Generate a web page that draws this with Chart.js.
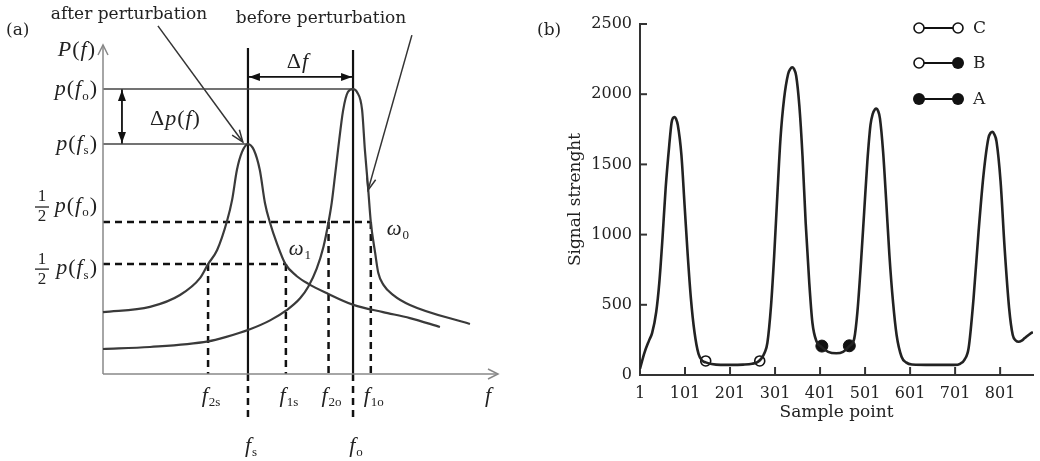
<!DOCTYPE html>
<html>
<head>
<meta charset="utf-8">
<script src="https://cdn.jsdelivr.net/npm/chart.js@4.4.1/dist/chart.umd.min.js"></script>
<style>
html, body { margin: 0; padding: 0; background: #fff; }
#wrap { position: relative; width: 1040px; height: 461px; }
canvas { position: absolute; top: 0; }
#chartA { left: 0; }
#chartB { left: 520px; }
</style>
</head>
<body>
<div id="wrap">
  <canvas id="chartA" width="520" height="461"></canvas>
  <canvas id="chartB" width="520" height="461"></canvas>
</div>
<script>
// ---------- panel (a): schematic, axes run 0..100 in both directions ----------
const afterX = [0, 11.9, 19.5, 24.6, 26.6, 28.9, 31.4, 32.7, 33.9, 35.2, 36.7, 38.2, 39.7, 41.0, 42.3, 44.0, 46.2, 49.0, 52.0, 56.6, 63.4, 70.9, 77.7, 85.3];
const afterY = [18.8, 20.4, 24.0, 29.2, 33.4, 37.7, 46.5, 53.0, 62.0, 67.5, 69.9, 68.1, 62.0, 52.0, 45.9, 39.8, 33.4, 29.8, 27.4, 24.6, 21.0, 18.8, 17.0, 14.3];
const beforeX = [0, 11.9, 26.6, 31.0, 37.2, 42.3, 46.5, 49.9, 52.0, 54.1, 55.8, 57.1, 57.9, 58.7, 59.5, 60.8, 62.0, 63.3, 64.3, 65.6, 66.3, 67.1, 67.8, 68.9, 69.7, 71.0, 73.5, 77.7, 92.9];
const beforeY = [7.6, 8.2, 9.9, 11.2, 13.6, 16.3, 19.4, 23.0, 26.6, 32.0, 38.6, 46.2, 52.0, 59.9, 68.1, 80.2, 85.7, 86.6, 85.7, 80.2, 68.1, 56.8, 46.2, 36.8, 30.7, 27.1, 24.0, 21.0, 15.2];

const peakFreqs = [36.7, 63.3];          // f_s, f_o
const peakLevels = [69.9, 86.6];         // p(f_s), p(f_o)
const halfLevels = [33.4, 46.2];         // 1/2 p(f_s), 1/2 p(f_o)
const edgeFreqs = [26.6, 46.3, 57.1, 67.8];
const edgeLabels = ['2s', '1s', '2o', '1o'];
const pointerArrows = [[13.9, 105.8, 35.4, 70.5], [78.2, 103, 67.1, 55.9]];

// ---------- panel (b): signal ----------
const sampleX = [1, 11, 21, 28, 37, 44, 51, 58, 66, 71, 74, 78, 81, 85, 93, 100, 107, 114, 122, 131, 140, 147, 160, 180, 203, 230, 250, 262, 270, 278, 284, 292, 299, 306, 313, 321, 330, 335, 339, 343, 348, 355, 362, 369, 377, 384, 393, 404, 419, 437, 452, 466, 477, 484, 492, 499, 506, 513, 518, 523, 526, 530, 534, 541, 548, 555, 563, 571, 582, 592, 605, 650, 700, 712, 722, 731, 742, 753, 764, 775, 780, 784, 788, 793, 802, 811, 821, 829, 836, 842, 849, 855, 869, 874];
const signal = [45, 160, 245, 300, 449, 662, 976, 1332, 1638, 1795, 1830, 1838, 1825, 1781, 1567, 1211, 855, 548, 306, 150, 100, 90, 78, 72, 72, 74, 80, 92, 115, 160, 230, 491, 847, 1275, 1681, 1966, 2144, 2180, 2192, 2180, 2130, 1916, 1560, 1085, 657, 372, 240, 200, 165, 155, 165, 205, 261, 451, 807, 1163, 1519, 1781, 1860, 1893, 1898, 1880, 1828, 1591, 1234, 855, 522, 285, 130, 90, 75, 72, 72, 80, 110, 192, 548, 1018, 1424, 1688, 1725, 1733, 1715, 1662, 1377, 902, 475, 285, 245, 237, 245, 261, 297, 305];
const xTickValues = [1, 101, 201, 301, 401, 501, 601, 701, 801];
const yTickValues = [0, 500, 1000, 1500, 2000, 2500];
const markerCX = [147, 267];
const markerCY = [100, 100];
const markerAX = [405, 466];
const markerAY = [206, 208];
const legendLabels = ['C', 'B', 'A'];
const legendLeftOpen = [true, true, false];
const legendRightOpen = [true, false, false];

const SERIF = '"DejaVu Serif", serif';
const MATH = '"Liberation Serif", serif';

function seg(x1, y1, x2, y2, color, width, dash) {
  return {
    data: [{ x: x1, y: y1 }, { x: x2, y: y2 }],
    showLine: true, pointRadius: 0, borderColor: color, borderWidth: width,
    borderDash: dash || [], clip: false
  };
}

function mathText(ctx, parts, x, y, align, size) {
  const fonts = {
    i: 'italic ' + size + 'px ' + MATH,
    r: size + 'px ' + MATH,
    s: Math.round(size * 0.6) + 'px ' + MATH
  };
  const gap = 1;
  let w = 0;
  parts.forEach(p => { ctx.font = fonts[p[1]]; w += ctx.measureText(p[0]).width + gap; });
  w -= gap;
  let cx = align === 'right' ? x - w : align === 'center' ? x - w / 2 : x;
  ctx.textAlign = 'left';
  ctx.textBaseline = 'middle';
  parts.forEach(p => {
    ctx.font = fonts[p[1]];
    ctx.fillText(p[0], cx, p[1] === 's' ? y + size * 0.32 : y);
    cx += ctx.measureText(p[0]).width + gap;
  });
}

function head(ctx, x1, y1, x2, y2, len, half, filled) {
  const a = Math.atan2(y2 - y1, x2 - x1);
  const bx = x2 - len * Math.cos(a), by = y2 - len * Math.sin(a);
  const px = half * Math.sin(a), py = -half * Math.cos(a);
  ctx.beginPath();
  ctx.moveTo(bx + px, by + py);
  ctx.lineTo(x2, y2);
  ctx.lineTo(bx - px, by - py);
  if (filled) { ctx.closePath(); ctx.fill(); } else { ctx.stroke(); }
}

const drawA = {
  id: 'drawA',
  afterDraw(chart) {
    const { ctx, scales: { x, y } } = chart;
    const X = v => x.getPixelForValue(v), Y = v => y.getPixelForValue(v);
    ctx.save();
    // arrowheads
    ctx.strokeStyle = '#888'; ctx.lineWidth = 1.5;
    head(ctx, X(0), Y(0), X(100), Y(0), 10, 5, false);
    head(ctx, X(0), Y(0), X(0), Y(100), 10, 5, false);
    ctx.fillStyle = '#111';
    head(ctx, X(peakFreqs[1]), Y(90.3), X(peakFreqs[0]) + 1, Y(90.3), 11, 4, true);
    head(ctx, X(peakFreqs[0]), Y(90.3), X(peakFreqs[1]) - 1, Y(90.3), 11, 4, true);
    head(ctx, X(4.8), Y(peakLevels[0]), X(4.8), Y(peakLevels[1]) + 1, 11, 4, true);
    head(ctx, X(4.8), Y(peakLevels[1]), X(4.8), Y(peakLevels[0]) - 1, 11, 4, true);
    ctx.strokeStyle = '#333'; ctx.lineWidth = 1.5;
    pointerArrows.forEach(a => head(ctx, X(a[0]), Y(a[1]), X(a[2]), Y(a[3]), 12, 4.5, false));

    // text
    ctx.fillStyle = '#222';
    ctx.font = '17px ' + SERIF;
    ctx.textAlign = 'center'; ctx.textBaseline = 'middle';
    ctx.fillText('after perturbation', 129, 15);
    ctx.fillText('before perturbation', 321, 19);
    ctx.textAlign = 'left';
    ctx.fillText('(a)', 6, 31);

    const lx = X(0) - 6;
    mathText(ctx, [['P', 'i'], ['(', 'r'], ['f', 'i'], [')', 'r']], X(0) - 8, Y(100) + 5, 'right', 22);
    mathText(ctx, [['p', 'i'], ['(', 'r'], ['f', 'i'], ['o', 's'], [')', 'r']], lx, Y(peakLevels[1]), 'right', 22);
    mathText(ctx, [['p', 'i'], ['(', 'r'], ['f', 'i'], ['s', 's'], [')', 'r']], lx, Y(peakLevels[0]), 'right', 22);

    const fracs = [[Y(halfLevels[1]) - 16, 'o'], [Y(halfLevels[0]) + 4, 's']];
    fracs.forEach(f => {
      const cy = f[0];
      mathText(ctx, [['p', 'i'], ['(', 'r'], ['f', 'i'], [f[1], 's'], [')', 'r']], lx, cy, 'right', 22);
      ctx.fillStyle = '#222';
      ctx.font = '17px ' + MATH; ctx.textAlign = 'center'; ctx.textBaseline = 'middle';
      ctx.fillText('1', 42, cy - 9);
      ctx.fillText('2', 42, cy + 11);
      ctx.strokeStyle = '#222'; ctx.lineWidth = 1.3;
      ctx.beginPath(); ctx.moveTo(35, cy + 1); ctx.lineTo(49, cy + 1); ctx.stroke();
    });

    mathText(ctx, [['\u0394', 'r'], ['p', 'i'], ['(', 'r'], ['f', 'i'], [')', 'r']],
      X(4.8) + 53, (Y(peakLevels[0]) + Y(peakLevels[1])) / 2 + 3, 'center', 22);
    mathText(ctx, [['\u0394', 'r'], ['f', 'i']], (X(peakFreqs[0]) + X(peakFreqs[1])) / 2 - 3, Y(90.3) - 15, 'center', 22);

    edgeFreqs.forEach((v, i) => {
      mathText(ctx, [['f', 'i'], [edgeLabels[i], 's']], X(v) + 3, Y(0) + 22, 'center', 22);
    });
    mathText(ctx, [['f', 'i'], ['s', 's']], X(peakFreqs[0]) + 3, Y(0) + 72, 'center', 22);
    mathText(ctx, [['f', 'i'], ['o', 's']], X(peakFreqs[1]) + 3, Y(0) + 72, 'center', 22);
    mathText(ctx, [['f', 'i']], X(97.5), Y(0) + 22, 'center', 22);
    mathText(ctx, [['\u03c9', 'i'], ['0', 's']], X(edgeFreqs[3]) + 27, Y(halfLevels[1]) + 7, 'center', 21);
    mathText(ctx, [['\u03c9', 'i'], ['1', 's']], X(edgeFreqs[1]) + 14, Y(halfLevels[0]) - 15, 'center', 21);
    ctx.restore();
  }
};

const dash = [7, 5];
const datasetsA = [
  { data: afterX.map((v, i) => ({ x: v, y: afterY[i] })), showLine: true, pointRadius: 0,
    borderColor: '#3a3a3a', borderWidth: 2.2, cubicInterpolationMode: 'monotone', clip: false },
  { data: beforeX.map((v, i) => ({ x: v, y: beforeY[i] })), showLine: true, pointRadius: 0,
    borderColor: '#3a3a3a', borderWidth: 2.2, cubicInterpolationMode: 'monotone', clip: false },
  seg(0, 0, 100, 0, '#888', 1.5),
  seg(0, 0, 0, 100, '#888', 1.5),
  seg(0, peakLevels[1], peakFreqs[1], peakLevels[1], '#444', 1.5),
  seg(0, peakLevels[0], peakFreqs[0], peakLevels[0], '#444', 1.5),
  seg(peakFreqs[0], 0, peakFreqs[0], 99.1, '#111', 2.2),
  seg(peakFreqs[1], 0, peakFreqs[1], 98.5, '#111', 2.2),
  seg(peakFreqs[0], 0, peakFreqs[0], -14.6, '#111', 2.5, dash),
  seg(peakFreqs[1], 0, peakFreqs[1], -14.6, '#111', 2.5, dash),
  seg(0, halfLevels[1], edgeFreqs[3], halfLevels[1], '#111', 2.5, dash),
  seg(0, halfLevels[0], edgeFreqs[1], halfLevels[0], '#111', 2.5, dash),
  seg(edgeFreqs[0], halfLevels[0], edgeFreqs[0], 0, '#111', 2.5, dash),
  seg(edgeFreqs[1], halfLevels[0], edgeFreqs[1], 0, '#111', 2.5, dash),
  seg(edgeFreqs[2], halfLevels[1], edgeFreqs[2], 0, '#111', 2.5, dash),
  seg(edgeFreqs[3], halfLevels[1], edgeFreqs[3], 0, '#111', 2.5, dash),
  seg(peakFreqs[0], 90.3, peakFreqs[1], 90.3, '#111', 1.8),
  seg(4.8, peakLevels[1], 4.8, peakLevels[0], '#111', 1.8)
].concat(pointerArrows.map(a => seg(a[0], a[1], a[2], a[3], '#333', 1.5)));

new Chart(document.getElementById('chartA'), {
  type: 'scatter',
  data: { datasets: datasetsA },
  options: {
    responsive: false, animation: false, events: [],
    plugins: { legend: { display: false }, tooltip: { enabled: false } },
    layout: { padding: { left: 103, right: 22, top: 45, bottom: 87 } },
    scales: {
      x: { type: 'linear', min: 0, max: 100, display: false },
      y: { type: 'linear', min: 0, max: 100, display: false }
    }
  },
  plugins: [drawA]
});

// ---------- panel (b) ----------
const innerTicks = {
  id: 'innerTicks',
  afterDatasetsDraw(chart) {
    const { ctx, chartArea, scales: { x, y } } = chart;
    ctx.save();
    ctx.strokeStyle = '#333'; ctx.lineWidth = 2;
    xTickValues.forEach(v => {
      if (v === xTickValues[0]) return;
      const px = x.getPixelForValue(v);
      ctx.beginPath(); ctx.moveTo(px, chartArea.bottom); ctx.lineTo(px, chartArea.bottom - 8); ctx.stroke();
    });
    yTickValues.forEach(v => {
      if (v === 0) return;
      const py = y.getPixelForValue(v);
      ctx.beginPath(); ctx.moveTo(chartArea.left, py); ctx.lineTo(chartArea.left + 7, py); ctx.stroke();
    });
    ctx.restore();
  }
};

const legendB = {
  id: 'legendB',
  afterDraw(chart) {
    const { ctx } = chart;
    const rows = [28, 63, 99];
    ctx.save();
    ctx.strokeStyle = '#111'; ctx.fillStyle = '#111';
    legendLabels.forEach((lab, i) => {
      const cy = rows[i], x1 = 399, x2 = 438;
      ctx.lineWidth = 2;
      ctx.beginPath(); ctx.moveTo(x1, cy); ctx.lineTo(x2, cy); ctx.stroke();
      [[x1, legendLeftOpen[i]], [x2, legendRightOpen[i]]].forEach(m => {
        ctx.beginPath();
        if (m[1]) {
          ctx.arc(m[0], cy, 5, 0, Math.PI * 2);
          ctx.fillStyle = '#fff'; ctx.fill();
          ctx.lineWidth = 1.6; ctx.stroke();
        } else {
          ctx.arc(m[0], cy, 6, 0, Math.PI * 2);
          ctx.fillStyle = '#111'; ctx.fill();
        }
      });
      ctx.fillStyle = '#222';
      ctx.font = '17px ' + SERIF; ctx.textAlign = 'left'; ctx.textBaseline = 'middle';
      ctx.fillText(lab, 453, cy + 1);
    });
    ctx.font = '17px ' + SERIF;
    ctx.fillText('(b)', 17, 31);
    ctx.restore();
  }
};

new Chart(document.getElementById('chartB'), {
  type: 'scatter',
  data: {
    datasets: [
      { data: sampleX.map((v, i) => ({ x: v, y: signal[i] })), showLine: true, pointRadius: 0,
        borderColor: '#222', borderWidth: 2.6, cubicInterpolationMode: 'monotone' },
      { data: markerCX.map((v, i) => ({ x: v, y: markerCY[i] })), pointRadius: 5,
        pointBackgroundColor: 'rgba(0,0,0,0)', pointBorderColor: '#111', pointBorderWidth: 1.6 },
      { data: markerAX.map((v, i) => ({ x: v, y: markerAY[i] })), pointRadius: 6,
        pointBackgroundColor: '#111', pointBorderColor: '#111', pointBorderWidth: 1 }
    ]
  },
  options: {
    responsive: false, animation: false, events: [],
    plugins: { legend: { display: false }, tooltip: { enabled: false } },
    layout: { padding: { top: 24, right: 0, left: 0, bottom: 0 } },
    scales: {
      x: {
        type: 'linear', min: 1, max: 874,
        afterBuildTicks: s => { s.ticks = xTickValues.map(v => ({ value: v })); },
        afterFit: s => { s.height = 86; },
        grid: { display: false, drawTicks: false },
        border: { display: true, color: '#333', width: 2 },
        ticks: { font: { family: SERIF, size: 16 }, color: '#222', padding: 9, maxRotation: 0, autoSkip: false,
          callback: v => String(v) },
        title: { display: true, text: 'Sample point', font: { family: SERIF, size: 17 }, color: '#222', padding: { top: 0, bottom: 38 } }
      },
      y: {
        type: 'linear', min: 0, max: 2500,
        afterBuildTicks: s => { s.ticks = yTickValues.map(v => ({ value: v })); },
        afterFit: s => { s.width = 120; },
        grid: { display: false, drawTicks: false },
        border: { display: true, color: '#333', width: 2 },
        ticks: { font: { family: SERIF, size: 16 }, color: '#222', padding: 8, callback: v => String(v) },
        title: { display: true, text: 'Signal strenght', font: { family: SERIF, size: 17 }, color: '#222', padding: { top: 45, bottom: 0 } }
      }
    }
  },
  plugins: [innerTicks, legendB]
});
</script>
</body>
</html>
